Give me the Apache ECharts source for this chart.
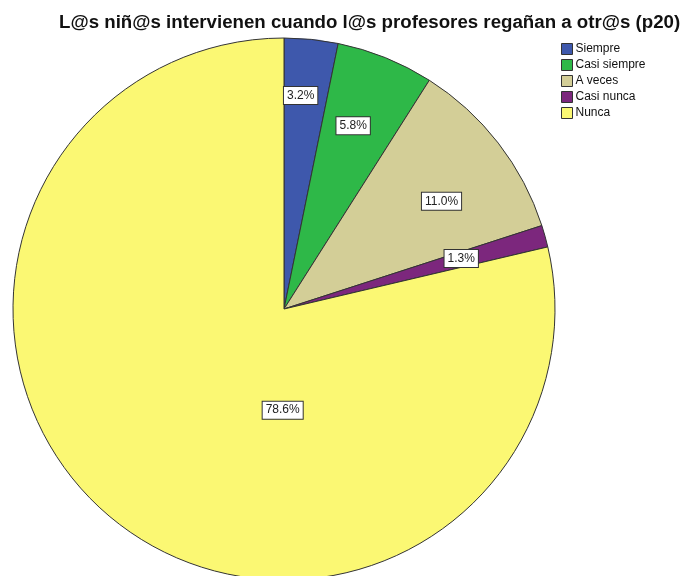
<!DOCTYPE html>
<html>
<head>
<meta charset="utf-8">
<script src="https://cdn.jsdelivr.net/npm/echarts@6/dist/echarts.min.js"></script>
<style>
  html, body { margin: 0; padding: 0; background: #fff; }
  #chart { width: 687px; height: 576px; }
</style>
</head>
<body>
<div id="chart"></div>
<script>
// p20 answers, percent
const categories = ['Siempre', 'Casi siempre', 'A veces', 'Casi nunca', 'Nunca'];
const percents = [3.2, 5.8, 11.0, 1.3, 78.6];
const colors = ['#3e58ac', '#2eb848', '#d3ce97', '#7c277d', '#fbf873'];

// small nudges so the boxed labels sit where SPSS put them
const labelNudge = [[-3, -19], [-4, -2], [3, 12], [-11, 2], [120, -52]];

const chart = echarts.init(document.getElementById('chart'));

const center = [284, 309];
const R = 271;
const FONT = 'Liberation Sans, Arial, sans-serif';

const option = {
  animation: false,
  title: {
    text: 'L@s niñ@s intervienen cuando l@s profesores regañan a otr@s (p20)',
    left: 59,
    top: 13,
    padding: 0,
    textStyle: {
      fontFamily: FONT,
      fontWeight: 'bold',
      fontSize: 18.7,
      color: '#111',
    },
  },
  legend: {
    orient: 'vertical',
    left: 561,
    top: 43,
    padding: 0,
    data: categories,
    itemWidth: 11,
    itemHeight: 11,
    itemGap: 4,
    icon: 'rect',
    textStyle: {
      fontFamily: FONT,
      fontSize: 12,
      color: '#111',
      padding: [0, 0, 0, -2],
    },
    itemStyle: { borderColor: '#333', borderWidth: 1 },
    selectedMode: false,
  },
  series: [
    {
      type: 'pie',
      center: center,
      radius: [0, R],
      startAngle: 90,
      clockwise: true,
      avoidLabelOverlap: false,
      label: { show: false },
      labelLine: { show: false },
      itemStyle: { borderColor: '#333', borderWidth: 1 },
      data: categories.map((name, i) => ({
        name,
        value: percents[i],
        itemStyle: { color: colors[i] },
      })),
    },
    {
      // transparent twin, only carries the boxed % labels
      type: 'pie',
      silent: true,
      center: center,
      radius: [0, R * 1.42],
      startAngle: 90,
      clockwise: true,
      avoidLabelOverlap: false,
      itemStyle: { color: 'rgba(0,0,0,0)', borderWidth: 0 },
      labelLine: { show: false },
      label: {
        show: true,
        position: 'inside',
        formatter: (p) => percents[p.dataIndex].toFixed(1) + '%',
        fontFamily: FONT,
        fontSize: 12,
        color: '#222',
        backgroundColor: '#fff',
        borderColor: '#333',
        borderWidth: 1,
        padding: [3, 3, 2, 3],
      },
      labelLayout: (p) => ({ dx: labelNudge[p.dataIndex][0], dy: labelNudge[p.dataIndex][1] }),
      data: percents.map((v) => ({ value: v })),
    },
  ],
};

chart.setOption(option);
</script>
</body>
</html>
